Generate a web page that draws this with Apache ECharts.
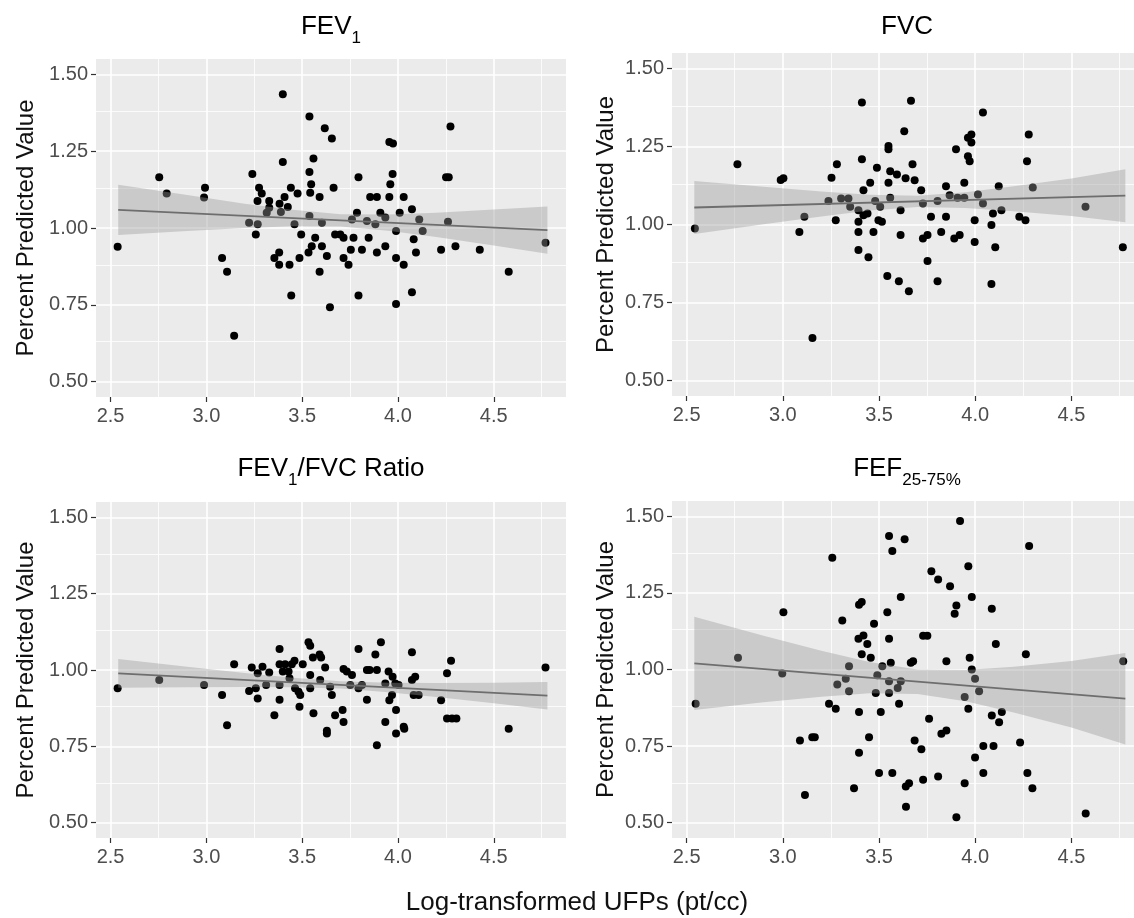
<!DOCTYPE html>
<html>
<head>
<meta charset="utf-8">
<script src="https://cdn.jsdelivr.net/npm/echarts@6/dist/echarts.min.js"></script>
<style>
html,body{margin:0;padding:0;background:#fff;}
#chart{width:1134px;height:918px;}
</style>
</head>
<body>
<div id="chart"></div>
<script>
// ---------- tick labels ----------
const xTicks = [2.5, 3.0, 3.5, 4.0, 4.5];
const xMinor = [2.75, 3.25, 3.75, 4.25, 4.75];
const yTicks = [0.5, 0.75, 1.0, 1.25, 1.5];
const yMinor = [0.625, 0.875, 1.125, 1.375];

// ---------- FEV1 ----------
const fev1Points = [
[2.537,0.939],[2.754,1.165],[2.793,1.112],[2.993,1.131],[2.988,1.099],[3.082,0.902],[3.108,0.858],[3.145,0.649],
[3.240,1.176],[3.223,1.017],[3.268,1.012],[3.258,0.979],[3.275,1.131],[3.289,1.112],[3.267,1.088],[3.328,1.088],
[3.328,1.066],[3.315,1.050],[3.382,1.079],[3.389,1.052],[3.399,1.435],[3.399,1.215],[3.408,1.101],[3.425,1.068],
[3.441,1.131],[3.476,1.112],[3.355,0.902],[3.380,0.920],[3.380,0.880],[3.434,0.880],[3.443,0.780],[3.460,1.012],
[3.495,0.979],[3.486,0.902],[3.533,0.920],[3.538,1.363],[3.559,1.226],[3.538,1.182],[3.547,1.142],[3.542,1.115],
[3.538,1.039],[3.568,0.968],[3.550,0.941],[3.591,1.101],[3.603,1.017],[3.603,0.941],[3.629,0.909],[3.591,0.858],
[3.618,1.325],[3.655,1.291],[3.664,1.131],[3.645,0.742],[3.672,0.979],[3.699,0.979],[3.716,0.968],[3.716,0.902],
[3.742,0.880],[3.754,0.929],[3.768,0.968],[3.786,1.050],[3.760,1.028],[3.794,1.165],[3.794,0.780],[3.812,0.929],
[3.847,0.968],[3.838,1.023],[3.855,1.101],[3.890,1.101],[3.882,1.012],[3.890,0.920],[3.908,1.050],[3.934,1.034],
[3.934,0.941],[3.955,1.280],[3.974,1.275],[3.972,1.176],[3.960,1.142],[3.955,1.101],[3.990,0.990],[3.990,0.902],
[3.990,0.753],[4.009,1.050],[4.030,1.101],[4.030,0.880],[4.073,1.061],[4.082,0.963],[4.094,0.920],[4.111,1.028],
[4.129,0.990],[4.073,0.791],[4.225,0.929],[4.251,1.165],[4.265,1.165],[4.274,1.330],[4.261,1.020],[4.300,0.941],
[4.427,0.929],[4.578,0.858],[4.770,0.952]
];
const bandX = [2.54, 2.9, 3.2, 3.45, 3.7, 3.95, 4.2, 4.5, 4.78];
const fev1Fit = [[2.54,1.059],[4.78,0.993]];
const fev1Upper = [1.141,1.107,1.079,1.059,1.045,1.044,1.050,1.060,1.070];
const fev1Lower = [0.977,0.990,1.000,1.006,1.005,0.991,0.971,0.943,0.916];

// ---------- FVC ----------
const fvcPoints = [
[2.543,0.987],[2.764,1.193],[2.989,1.143],[3.003,1.148],[3.086,0.976],[3.112,1.025],[3.154,0.636],[3.253,1.150],
[3.281,1.193],[3.275,1.014],[3.237,1.075],[3.303,1.083],[3.341,1.083],[3.350,1.057],[3.393,1.046],[3.393,1.009],
[3.393,0.976],[3.393,0.918],[3.411,1.391],[3.411,1.209],[3.419,1.110],[3.419,1.030],[3.440,1.035],[3.445,0.895],
[3.454,1.134],[3.471,0.976],[3.489,1.182],[3.480,1.075],[3.497,1.014],[3.515,1.009],[3.506,1.057],[3.543,0.835],
[3.549,1.252],[3.549,1.241],[3.549,1.134],[3.558,1.171],[3.558,1.086],[3.593,1.160],[3.603,0.818],[3.612,1.046],
[3.612,0.966],[3.631,1.299],[3.638,1.148],[3.655,0.786],[3.666,1.397],[3.674,1.193],[3.685,1.142],[3.719,1.110],
[3.728,1.067],[3.728,0.955],[3.752,0.966],[3.752,0.883],[3.770,1.025],[3.804,1.075],[3.804,0.818],[3.823,0.976],
[3.848,1.123],[3.848,1.025],[3.867,1.094],[3.891,0.955],[3.900,1.241],[3.919,0.966],[3.908,1.086],[3.943,1.134],
[3.943,1.086],[3.962,1.219],[3.971,1.203],[3.962,1.278],[3.980,1.289],[3.980,1.263],[3.997,1.014],[3.997,0.944],
[4.014,1.096],[4.040,1.359],[4.040,1.067],[4.084,0.998],[4.084,0.809],[4.092,1.035],[4.104,0.927],[4.122,1.123],
[4.136,1.046],[4.229,1.025],[4.261,1.014],[4.269,1.203],[4.278,1.289],[4.299,1.119],[4.573,1.057],[4.767,0.927]
];
const fvcFit = [[2.54,1.0545],[4.78,1.0923]];
const fvcUpper = [1.1395,1.1207,1.1057,1.0953,1.0921,1.1037,1.1226,1.1477,1.1773];
const fvcLower = [0.9695,1.0005,1.0255,1.0445,1.0561,1.0529,1.0424,1.0275,1.0073];

// ---------- FEV1/FVC ratio ----------
const ratioPoints = [
[2.537,0.940],[2.754,0.967],[2.988,0.951],[3.082,0.918],[3.108,0.819],[3.145,1.019],[3.223,0.931],[3.237,1.008],
[3.258,0.940],[3.268,0.907],[3.268,0.989],[3.293,1.011],[3.312,0.951],[3.328,0.992],[3.355,0.852],[3.382,1.069],
[3.382,1.019],[3.382,0.951],[3.382,0.903],[3.399,0.995],[3.411,1.019],[3.429,0.995],[3.446,1.019],[3.460,1.030],
[3.434,0.973],[3.463,0.940],[3.481,0.929],[3.490,0.918],[3.486,0.880],[3.503,1.019],[3.533,1.091],[3.542,1.079],
[3.542,0.984],[3.542,0.940],[3.556,1.041],[3.559,0.858],[3.591,1.051],[3.599,1.041],[3.594,0.967],[3.620,1.008],
[3.629,0.801],[3.629,0.792],[3.646,0.945],[3.655,0.918],[3.672,0.852],[3.711,0.869],[3.716,0.830],[3.716,1.003],
[3.733,0.995],[3.760,0.984],[3.751,0.951],[3.794,1.069],[3.794,0.940],[3.812,0.951],[3.838,1.000],[3.852,1.000],
[3.838,0.903],[3.882,1.051],[3.890,1.000],[3.890,0.754],[3.911,1.091],[3.934,0.956],[3.934,0.830],[3.951,0.995],
[3.955,0.901],[3.969,0.918],[3.972,0.978],[3.986,0.956],[3.990,0.869],[3.990,0.792],[4.003,0.951],[4.030,0.814],
[4.033,0.808],[4.073,1.058],[4.073,0.967],[4.090,0.978],[4.082,0.918],[4.108,0.918],[4.225,0.901],[4.256,0.989],
[4.277,1.030],[4.256,0.841],[4.282,0.841],[4.305,0.841],[4.578,0.808],[4.770,1.008]
];
const ratioFit = [[2.54,0.989],[4.78,0.9158]];
const ratioUpper = [1.036,1.0108,0.9904,0.9747,0.9631,0.9584,0.9577,0.9585,0.9608];
const ratioLower = [0.942,0.9436,0.9444,0.9437,0.9391,0.9274,0.9117,0.8913,0.8708];

// ---------- FEF25-75% ----------
const fefPoints = [
[2.547,0.888],[2.767,1.038],[3.003,1.187],[2.997,0.987],[3.089,0.768],[3.115,0.590],[3.153,0.779],[3.166,0.779],
[3.257,1.365],[3.240,0.888],[3.275,0.872],[3.283,0.951],[3.309,1.160],[3.327,0.970],[3.344,1.011],[3.344,0.929],
[3.370,0.612],[3.396,0.861],[3.396,0.728],[3.396,1.211],[3.410,1.220],[3.393,1.100],[3.419,1.111],[3.439,1.083],
[3.410,1.050],[3.457,1.038],[3.448,0.779],[3.474,1.149],[3.483,0.923],[3.491,0.981],[3.500,0.662],[3.509,0.861],
[3.517,1.011],[3.543,1.187],[3.552,1.436],[3.552,1.100],[3.552,0.962],[3.552,0.923],[3.561,1.022],[3.569,1.387],
[3.569,0.662],[3.604,0.888],[3.597,0.940],[3.613,1.237],[3.613,0.962],[3.633,1.425],[3.639,0.618],[3.656,0.629],
[3.640,0.552],[3.665,1.022],[3.677,1.027],[3.685,0.768],[3.720,0.740],[3.729,1.110],[3.751,1.110],[3.729,0.640],
[3.760,0.839],[3.772,1.321],[3.807,1.294],[3.807,0.651],[3.824,0.790],[3.850,0.801],[3.850,1.027],[3.869,1.272],
[3.893,1.182],[3.902,1.209],[3.902,0.518],[3.921,1.485],[3.945,0.910],[3.945,0.629],[3.964,0.872],[3.964,1.337],
[3.971,1.038],[3.982,1.237],[3.982,1.000],[3.999,0.970],[3.999,0.713],[4.020,0.929],[4.042,0.750],[4.042,0.662],
[4.086,1.198],[4.086,0.850],[4.095,0.750],[4.107,1.083],[4.124,0.828],[4.138,0.861],[4.233,0.762],[4.263,1.050],
[4.280,1.403],[4.271,0.662],[4.297,0.612],[4.574,0.530],[4.769,1.027]
];
const fefFit = [[2.54,1.020],[4.78,0.9046]];
const fefUpper = [1.172,1.1103,1.0608,1.0241,1.0003,0.9984,1.0093,1.0279,1.0536];
const fefLower = [0.868,0.8927,0.9112,0.9221,0.9203,0.8964,0.8597,0.8103,0.7556];

// ---------- layout ----------
const FONT = 'Liberation Sans, Arial, Helvetica, sans-serif';
const panels = [
  {pts: fev1Points, fit: fev1Fit, up: fev1Upper, lo: fev1Lower, grid: {left: 96, top: 59, width: 470, height: 338}, nameGap: 58},
  {pts: fvcPoints, fit: fvcFit, up: fvcUpper, lo: fvcLower, grid: {left: 672, top: 53, width: 472, height: 343}, nameGap: 54},
  {pts: ratioPoints, fit: ratioFit, up: ratioUpper, lo: ratioLower, grid: {left: 96, top: 502, width: 470, height: 336}, nameGap: 58},
  {pts: fefPoints, fit: fefFit, up: fefUpper, lo: fefLower, grid: {left: 672, top: 501, width: 472, height: 337}, nameGap: 54}
];

const grids = [], xAxes = [], yAxes = [], series = [];
panels.forEach((p, i) => {
  grids.push(Object.assign({show: true, backgroundColor: '#EBEBEB', borderWidth: 0, containLabel: false, outerBoundsMode: 'none'}, p.grid));
  xAxes.push({
    type: 'value', gridIndex: i, min: 2.424, max: 4.877,
    axisLine: {show: false},
    axisTick: {show: true, customValues: xTicks, length: 5, lineStyle: {color: '#333', width: 1.2}},
    axisLabel: {customValues: xTicks, formatter: v => v.toFixed(1), fontSize: 20, color: '#4D4D4D', fontFamily: FONT, margin: 9},
    splitLine: {show: true, lineStyle: {color: '#FFFFFF', width: 1.6}}
  });
  yAxes.push({
    type: 'value', gridIndex: i, min: 0.45, max: 1.55,
    name: 'Percent Predicted Value', nameLocation: 'middle', nameGap: p.nameGap, nameMoveOverlap: false,
    nameTextStyle: {fontSize: 24, color: '#111', fontFamily: FONT},
    axisLine: {show: false},
    axisTick: {show: true, customValues: yTicks, length: 5, lineStyle: {color: '#333', width: 1.2}},
    axisLabel: {customValues: yTicks, formatter: v => v.toFixed(2), fontSize: 20, color: '#4D4D4D', fontFamily: FONT, margin: 8},
    splitLine: {show: true, lineStyle: {color: '#FFFFFF', width: 1.6}}
  });
  series.push({
    type: 'scatter', xAxisIndex: i, yAxisIndex: i, z: 2, silent: true,
    symbolSize: 8, itemStyle: {color: '#000', opacity: 1},
    data: p.pts,
    markLine: {
      silent: true, symbol: 'none', z: 1, animation: false,
      label: {show: false},
      lineStyle: {color: '#FFFFFF', width: 0.8, type: 'solid'},
      emphasis: {disabled: true},
      data: xMinor.map(v => ({xAxis: v})).concat(yMinor.map(v => ({yAxis: v})))
    }
  });
  const rows = bandX.map((x, k) => [x, p.lo[k], p.up[k]]);
  series.push({
    type: 'custom', xAxisIndex: i, yAxisIndex: i, z: 3, silent: true,
    data: rows, encode: {x: 0, y: [1, 2]},
    renderItem: (params, api) => {
      if (params.dataIndex !== 0) return null;
      const poly = [];
      rows.forEach(r => poly.push(api.coord([r[0], r[2]])));
      rows.slice().reverse().forEach(r => poly.push(api.coord([r[0], r[1]])));
      return {type: 'polygon', shape: {points: poly}, style: {fill: 'rgba(153,153,153,0.4)'}};
    }
  });
  series.push({
    type: 'line', xAxisIndex: i, yAxisIndex: i, z: 4, silent: true,
    symbol: 'none', data: p.fit,
    lineStyle: {color: '#6E6E6E', width: 1.8}
  });
});

const titleRich = {
  m: {fontSize: 26, fontWeight: 'normal', lineHeight: 40, color: '#000', fontFamily: FONT},
  s: {fontSize: 17, fontWeight: 'normal', lineHeight: 40, verticalAlign: 'bottom', color: '#000', fontFamily: FONT}
};
const titles = [
  {text: '{m|FEV}{s|1}', left: 331, top: 7},
  {text: '{m|FVC}', left: 907, top: 7},
  {text: '{m|FEV}{s|1}{m|/FVC Ratio}', left: 331, top: 449},
  {text: '{m|FEF}{s|25-75%}', left: 907, top: 449}
].map(t => ({text: t.text, left: t.left, top: t.top, textAlign: 'center', padding: 0,
  textStyle: {fontWeight: 'normal', fontFamily: FONT, rich: titleRich}}));
titles.push({
  text: 'Log-transformed UFPs (pt/cc)', left: 577, top: 888, textAlign: 'center', padding: 0,
  textStyle: {fontSize: 26, fontWeight: 'normal', color: '#111', fontFamily: FONT, lineHeight: 30}
});

const chart = echarts.init(document.getElementById('chart'), null, {renderer: 'canvas'});
chart.setOption({
  animation: false,
  backgroundColor: '#FFFFFF',
  title: titles,
  grid: grids,
  xAxis: xAxes,
  yAxis: yAxes,
  series: series
});
</script>
</body>
</html>
